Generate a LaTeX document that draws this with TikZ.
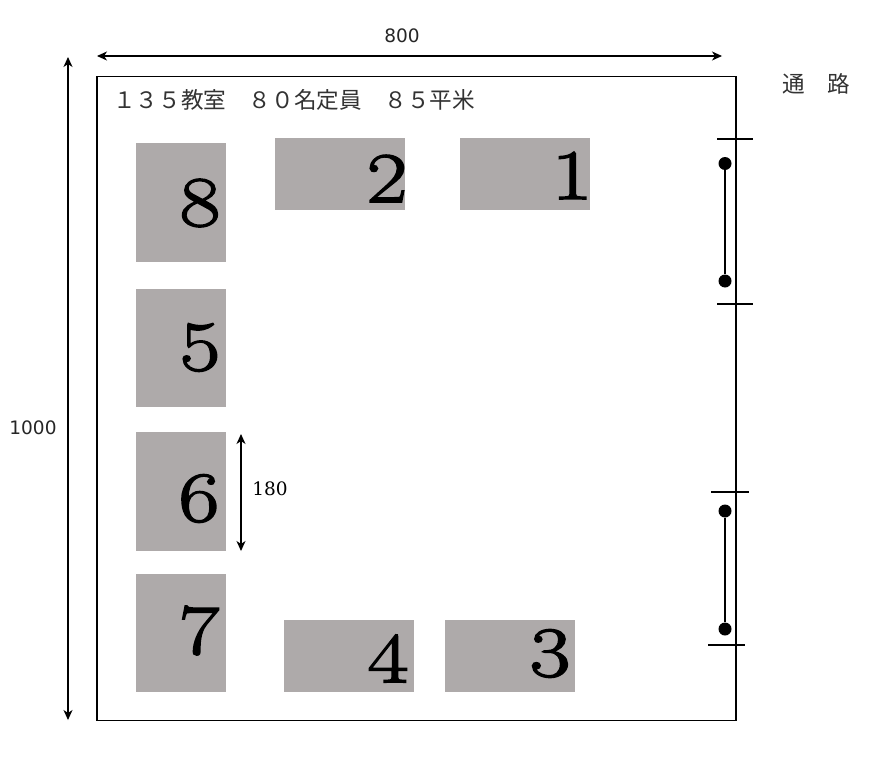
\documentclass[tikz,border=0pt]{standalone}
\usepackage{fontspec}
\usetikzlibrary{arrows.meta}
\newfontfamily\cjk{Noto Sans CJK JP}
\newfontfamily\dimsans{DejaVu Sans}
\newfontfamily\dimserif{DejaVu Serif}
\newfontfamily\bigdigit[FakeStretch=1.25,FakeBold=2.3]{Latin Modern Roman}
\definecolor{desk}{HTML}{AEAAAA}
\tikzset{
  x=1pt,y=-1pt,
  wall/.style={draw=black,line width=1.3pt},
  desk/.style={fill=desk,draw=none,anchor=north west,inner sep=0pt},
  digit/.style={font=\bigdigit\fontsize{71}{71}\selectfont,inner sep=0pt,text=black},
  dim/.style={draw=black,line width=1.1pt,{Stealth[length=10pt,width=9pt,inset=3pt]}-{Stealth[length=10pt,width=9pt,inset=3pt]}},
  tick/.style={draw=black,line width=1.1pt},
  door/.style={draw=black,line width=1.5pt},
  hinge/.style={circle,fill=black,draw=none,minimum size=13pt,inner sep=0pt},
  dimlabel/.style={font=\dimsans\fontsize{18.5}{18}\selectfont,inner sep=0pt,text=black!85},
  cjklabel/.style={font=\cjk\fontsize{22.6}{23}\selectfont,inner sep=0pt,text=black!80,anchor=west}
}
\begin{document}
\begin{tikzpicture}
\useasboundingbox (0,0) rectangle (877,760);
\fill[white] (0,0) rectangle (877,760);
% room
\node[wall,anchor=north west,inner sep=0pt,minimum width=639pt,minimum height=644pt] (room) at (96.4,75.6) {};
% desks
\foreach \n/\x/\y/\w/\h in {b8/136/143/90/119,b2/275/138/130/72,b1/460/138/130/72,b5/136/289/90/118,b6/136/432/90/119,b7/136/574/90/118,b4/284/620/130/72,b3/445/620/130/72}{
  \node[desk,minimum width=\w pt,minimum height=\h pt] (\n) at (\x,\y) {};
}
\node[digit] (n8) at (200,203) {8};
\node[digit] (n2) at (387,178.5) {2};
\node[digit] (n1) at (572,175.5) {1};
\node[digit] (n5) at (200,347.5) {5};
\node[digit] (n6) at (199,498.5) {6};
\node[digit] (n7) at (199,630.5) {7};
\node[digit] (n4) at (388,658.5) {4};
\node[digit] (n3) at (550,653.5) {3};
% dimensions
\coordinate (w1) at (97,56); \coordinate (w2) at (722,56);
\draw[dim] (w1) -- (w2);
\node[dimlabel] (l800) at (402,36) {800};
\coordinate (h1) at (68,57); \coordinate (h2) at (68,720);
\draw[dim] (h1) -- (h2);
\node[dimlabel] (l1000) at (33,428) {1000};
\coordinate (s1) at (241,434); \coordinate (s2) at (241,551);
\draw[dim] (s1) -- (s2);
\node[font=\dimserif\fontsize{18.5}{18}\selectfont,inner sep=0pt] (l180) at (270,489) {180};
% titles
\node[cjklabel] (title) at (113,100) {１３５教室　８０名定員　８５平米};
\node[cjklabel] (aisle) at (782,84) {通　路};
% doors
\coordinate (t1a) at (717,139); \coordinate (t1b) at (753,139);
\coordinate (t2a) at (717,304); \coordinate (t2b) at (753,304);
\coordinate (t3a) at (711,492); \coordinate (t3b) at (749,492);
\coordinate (t4a) at (708,645); \coordinate (t4b) at (745,645);
\draw[tick] (t1a) -- (t1b);
\draw[tick] (t2a) -- (t2b);
\draw[tick] (t3a) -- (t3b);
\draw[tick] (t4a) -- (t4b);
\node[hinge] (d1) at (725,163.5) {};
\node[hinge] (d2) at (725,281) {};
\node[hinge] (d3) at (725,511) {};
\node[hinge] (d4) at (725,629) {};
\draw[door] (d1) -- (d2);
\draw[door] (d3) -- (d4);
\end{tikzpicture}
\end{document}
